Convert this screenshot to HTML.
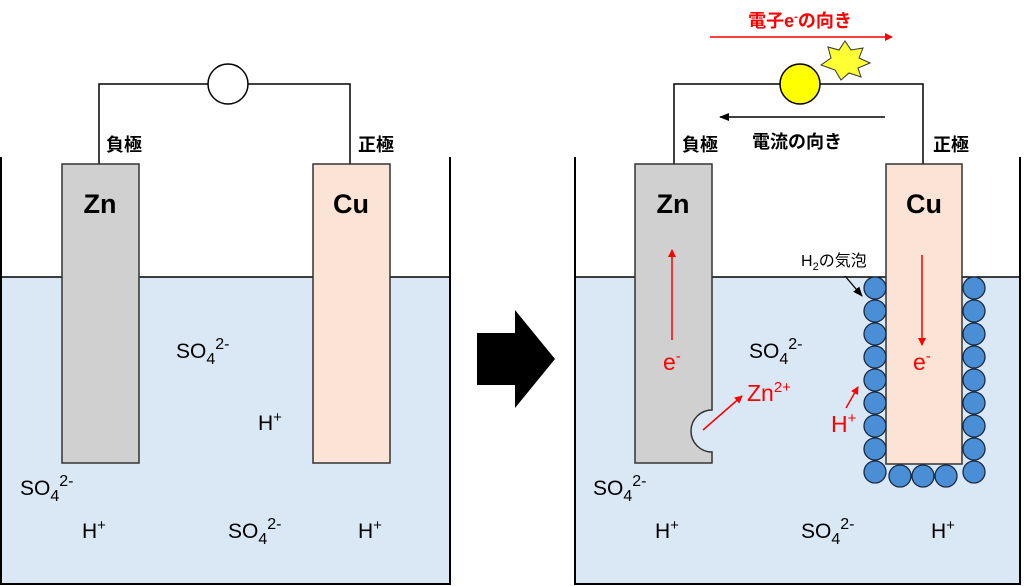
<!DOCTYPE html>
<html><head><meta charset="utf-8"><style>
html,body{margin:0;padding:0;background:#fff}
svg{display:block}
text{font-family:"Liberation Sans","Noto Sans CJK JP",sans-serif}
</style></head><body>
<svg width="1024" height="586" viewBox="0 0 1024 586" xmlns="http://www.w3.org/2000/svg">
<defs>
<marker id="ar" markerWidth="8" markerHeight="8" refX="7" refY="4" orient="auto" markerUnits="userSpaceOnUse"><path d="M0,0 L8,4 L0,8 z" fill="red"/></marker>
<marker id="ab" markerWidth="10" markerHeight="8" refX="9" refY="4" orient="auto" markerUnits="userSpaceOnUse"><path d="M0,0 L10,4 L0,8 z" fill="#000"/></marker>
</defs>
<!-- LEFT -->
<rect x="1" y="277" width="449" height="307" fill="#dae7f5"/>
<line x1="1" y1="277" x2="450" y2="277" stroke="#000" stroke-width="1.5"/>
<path d="M1,157 V584 H450 V157" fill="none" stroke="#000" stroke-width="2"/>
<path d="M99,164 V84 H350 V164" fill="none" stroke="#000" stroke-width="1.5"/>
<circle cx="228" cy="84" r="20" fill="#fff" stroke="#000" stroke-width="1.5"/>
<rect x="62" y="164" width="77" height="299" fill="#d0d0d0" stroke="#333" stroke-width="1.5"/>
<rect x="313" y="164" width="77" height="299" fill="#fbe3d6" stroke="#333" stroke-width="1.5"/>
<text x="100" y="213" font-size="27" font-weight="bold" text-anchor="middle">Zn</text>
<text x="351" y="213" font-size="27" font-weight="bold" text-anchor="middle">Cu</text>
<text x="106" y="151" font-size="18" font-weight="bold">負極</text>
<text x="358" y="151" font-size="18" font-weight="bold">正極</text>
<g font-size="21">
<text x="176" y="358">SO<tspan font-size="16" dy="6">4</tspan><tspan font-size="16" dy="-15">2-</tspan></text>
<text x="258" y="430">H<tspan font-size="15" dy="-8">+</tspan></text>
<text x="20" y="495">SO<tspan font-size="16" dy="6">4</tspan><tspan font-size="16" dy="-15">2-</tspan></text>
<text x="82" y="538">H<tspan font-size="15" dy="-8">+</tspan></text>
<text x="228" y="538">SO<tspan font-size="16" dy="6">4</tspan><tspan font-size="16" dy="-15">2-</tspan></text>
<text x="358" y="538">H<tspan font-size="15" dy="-8">+</tspan></text>
</g>
<!-- big arrow -->
<path d="M477,333 H515 V310 L555,359 L515,408 V385 H477 z" fill="#000"/>
<!-- RIGHT -->
<rect x="575" y="277" width="445" height="307" fill="#dae7f5"/>
<line x1="575" y1="277" x2="1020" y2="277" stroke="#000" stroke-width="1.5"/>
<path d="M575,157 V584 H1020 V157" fill="none" stroke="#000" stroke-width="2"/>
<path d="M674,164 V84 H923 V164" fill="none" stroke="#000" stroke-width="1.5"/>
<circle cx="800" cy="84" r="20" fill="#ffff00" stroke="#000" stroke-width="1.5"/>
<polygon points="821,65 831,58 828,47 839,50 845,41 851,50 863,48 859,58 870,63 858,68 861,77 849,73 841,80 835,70" fill="#ffff33" stroke="#333" stroke-width="1"/>
<line x1="710" y1="37" x2="892" y2="37" stroke="red" stroke-width="1.5" marker-end="url(#ar)"/>
<text x="800" y="27" font-size="18" font-weight="bold" fill="red" text-anchor="middle">電子e<tspan font-size="11" dy="-7">-</tspan><tspan dy="7">の向き</tspan></text>
<line x1="885" y1="117" x2="720" y2="117" stroke="#000" stroke-width="1.5" marker-end="url(#ab)"/>
<text x="752" y="148" font-size="18" font-weight="bold">電流の向き</text>
<text x="682" y="151" font-size="18" font-weight="bold">負極</text>
<text x="933" y="151" font-size="18" font-weight="bold">正極</text>
<path d="M635,164 H712 V410 A20,20 0 0 0 712,452 V463 H635 z" fill="#d0d0d0" stroke="#333" stroke-width="1.5"/>
<rect x="886" y="164" width="76" height="300" fill="#fbe3d6" stroke="#333" stroke-width="1.5"/>
<text x="673" y="213" font-size="27" font-weight="bold" text-anchor="middle">Zn</text>
<text x="924" y="213" font-size="27" font-weight="bold" text-anchor="middle">Cu</text>
<g fill="#4a8fd6" stroke="#1a2a40" stroke-width="1.3">
<circle cx="875" cy="288" r="11"/><circle cx="875" cy="311" r="11"/><circle cx="875" cy="334" r="11"/><circle cx="875" cy="357" r="11"/><circle cx="875" cy="380" r="11"/><circle cx="875" cy="403" r="11"/><circle cx="875" cy="426" r="11"/><circle cx="875" cy="449" r="11"/><circle cx="875" cy="472" r="11"/>
<circle cx="974" cy="288" r="11"/><circle cx="974" cy="311" r="11"/><circle cx="974" cy="334" r="11"/><circle cx="974" cy="357" r="11"/><circle cx="974" cy="380" r="11"/><circle cx="974" cy="403" r="11"/><circle cx="974" cy="426" r="11"/><circle cx="974" cy="449" r="11"/><circle cx="974" cy="472" r="11"/>
<circle cx="900" cy="476" r="11"/><circle cx="923" cy="476" r="11"/><circle cx="946" cy="476" r="11"/>
</g>
<text x="801" y="266" font-size="16">H<tspan font-size="11" dy="4">2</tspan><tspan dy="-4">の気泡</tspan></text>
<line x1="845" y1="276" x2="862" y2="296" stroke="#000" stroke-width="1.3" marker-end="url(#ab)"/>
<line x1="672" y1="340" x2="672" y2="250" stroke="red" stroke-width="1.5" marker-end="url(#ar)"/>
<line x1="922" y1="255" x2="922" y2="345" stroke="red" stroke-width="1.5" marker-end="url(#ar)"/>
<line x1="703" y1="430" x2="742" y2="396" stroke="red" stroke-width="1.5" marker-end="url(#ar)"/>
<line x1="846" y1="408" x2="858" y2="387" stroke="red" stroke-width="1.5" marker-end="url(#ar)"/>
<g font-size="23" fill="red">
<text x="663" y="370">e<tspan font-size="15" dy="-9">-</tspan></text>
<text x="913" y="370">e<tspan font-size="15" dy="-9">-</tspan></text>
<text x="747" y="401">Zn<tspan font-size="15" dy="-9">2+</tspan></text>
<text x="831" y="432">H<tspan font-size="15" dy="-9">+</tspan></text>
</g>
<g font-size="21">
<text x="749" y="358">SO<tspan font-size="16" dy="6">4</tspan><tspan font-size="16" dy="-15">2-</tspan></text>
<text x="593" y="495">SO<tspan font-size="16" dy="6">4</tspan><tspan font-size="16" dy="-15">2-</tspan></text>
<text x="655" y="538">H<tspan font-size="15" dy="-8">+</tspan></text>
<text x="801" y="538">SO<tspan font-size="16" dy="6">4</tspan><tspan font-size="16" dy="-15">2-</tspan></text>
<text x="931" y="538">H<tspan font-size="15" dy="-8">+</tspan></text>
</g>
</svg>
</body></html>
